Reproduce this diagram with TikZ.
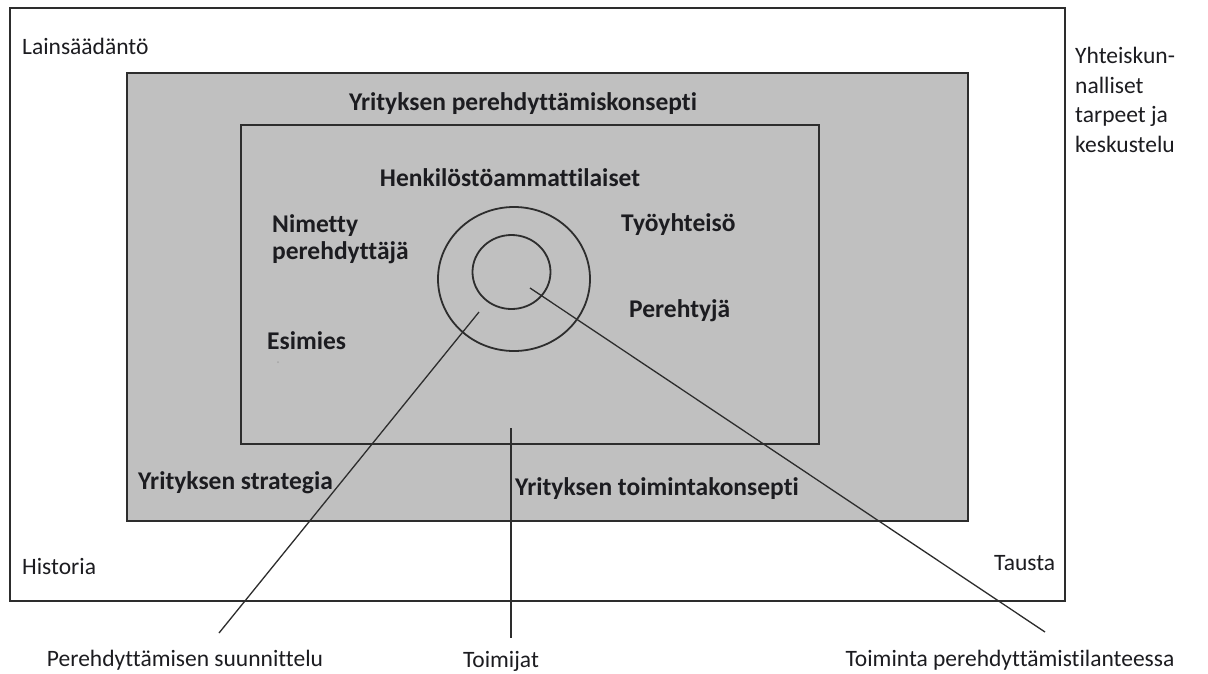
\documentclass[tikz,border=0pt]{standalone}
\usepackage{fontspec}
\setmainfont{Carlito}[Ligatures=NoCommon]
\usetikzlibrary{shapes.geometric}
\definecolor{boxgrey}{RGB}{192,192,192}
\definecolor{ink}{RGB}{45,45,45}
\definecolor{txt}{RGB}{28,28,32}
\begin{document}
\begin{tikzpicture}[x=1pt,y=-1pt,
  frame/.style={draw=ink, line width=2pt, inner sep=0pt, outer sep=0pt},
  ring/.style={ellipse, draw=ink, line width=1.8pt, inner sep=0pt, outer sep=0pt},
  conn/.style={draw=ink, line width=1.3pt},
  lbl/.style={text=txt, inner sep=0pt, font=\fontsize{23.5}{29.5}\selectfont},
  blbl/.style={text=txt, inner sep=0pt, font=\fontsize{25.5}{27}\selectfont\bfseries}]
\useasboundingbox (0,0) rectangle (1208,673);
\fill[white] (0,0) rectangle (1208,673);
% boxes
\node[frame, fill=white, minimum width=1055pt, minimum height=593pt] (outer) at (537.5,304.5) {};
\node[frame, fill=boxgrey, minimum width=841pt, minimum height=448pt] (concept) at (547.5,297) {};
\node[frame, fill=boxgrey, minimum width=578pt, minimum height=319pt] (inner) at (530,284.5) {};
% rings
\node[ring, minimum width=152pt, minimum height=144pt] (outring) at (514,279) {};
\node[ring, minimum width=78pt, minimum height=74pt] (inring) at (511.5,272) {};
% connector ends
\coordinate (c1a) at (479,312);
\coordinate (c1b) at (219,633);
\coordinate (c2a) at (511,428);
\coordinate (c2b) at (511,638);
\coordinate (c3a) at (530,288);
\coordinate (c3b) at (1045,632);
\draw[conn] (c1a) -- (c1b);
\draw[conn] (c2a) -- (c2b);
\draw[conn] (c3a) -- (c3b);
% speck
\fill[gray!70] (278,362) circle (1pt);
% outer labels
\node[lbl, anchor=west] (lains) at (22,46) {Lainsäädäntö};
\node[lbl, anchor=north west, align=left] (yht) at (1075,47) {Yhteiskun-\\nalliset\\tarpeet ja\\keskustelu};
\node[lbl, anchor=west] (hist) at (22,566) {Historia};
\node[lbl, anchor=west] (taus) at (994,563) {Tausta};
% grey box labels
\node[blbl] (ypk) at (523,104) {Yrityksen perehdyttämiskonsepti};
\node[blbl, anchor=west] (ys) at (138,483) {Yrityksen strategia};
\node[blbl] (ytk) at (657,489) {Yrityksen toimintakonsepti};
% inner labels
\node[blbl] (hen) at (510,178) {Henkilöstöammattilaiset};
\node[blbl, anchor=north west, align=left] (nim) at (272,214) {Nimetty\\perehdyttäjä};
\node[blbl, anchor=west] (tyo) at (621,225) {Työyhteisö};
\node[blbl, anchor=west] (per) at (629,311) {Perehtyjä};
\node[blbl, anchor=west] (esi) at (267,341) {Esimies};
% bottom labels
\node[lbl] (suun) at (185,660) {Perehdyttämisen suunnittelu};
\node[lbl] (toim) at (501,661) {Toimijat};
\node[lbl] (tpt) at (1010,660) {Toiminta perehdyttämistilanteessa};
\end{tikzpicture}
\end{document}
